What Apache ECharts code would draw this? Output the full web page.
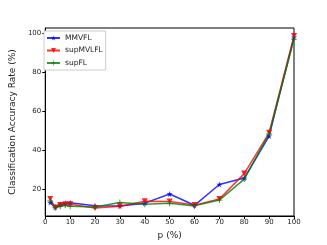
<!DOCTYPE html>
<html><head><meta charset="utf-8">
<script src="https://cdn.jsdelivr.net/npm/echarts@6/dist/echarts.min.js"></script>
<style>html,body{margin:0;padding:0;background:#fff}#c{width:327px;height:245px}</style>
</head><body><div id="c"></div>
<script>
const pValues = [2, 4, 6, 8, 10, 20, 30, 40, 50, 60, 70, 80, 90, 100];
const mmvfl = [13, 10.5, 12, 12.5, 12.8, 11.3, 11.2, 12.6, 17.3, 11.5, 22.2, 25.5, 47.1, 98];
const supMVLFL = [14.7, 10.4, 11.6, 12.1, 12.0, 10.1, 11.0, 13.6, 13.4, 11.6, 14.7, 27.8, 48.8, 98.6];
const supFL = [13.8, 10.2, 11.0, 11.5, 11.0, 10.6, 13.0, 12.1, 12.5, 11.2, 14.2, 25.0, 48.2, 97.0];
const xTicks = [0, 10, 20, 30, 40, 50, 60, 70, 80, 90, 100];
const yTicks = [20, 40, 60, 80, 100];

const star = 'path://M50,0 L61,35 L98,35 L68,57 L79,91 L50,70 L21,91 L32,57 L2,35 L39,35 Z';
const tri = 'path://M0,0 L10,0 L5,9 Z';
const plus = 'path://M4.3,0 L5.7,0 L5.7,4.3 L10,4.3 L10,5.7 L5.7,5.7 L5.7,10 L4.3,10 L4.3,5.7 L0,5.7 L0,4.3 L4.3,4.3 Z';

function mk(name, vals, color, symbol, size) {
  return {
    name, type: 'line', data: pValues.map((p, i) => [p, vals[i]]),
    symbol, symbolSize: size, showSymbol: true,
    lineStyle: { color, width: 1.5, opacity: 0.8 },
    itemStyle: { color, opacity: 0.85 },
    emphasis: { disabled: true }, animation: false
  };
}
const chart = echarts.init(document.getElementById('c'), null, { renderer: 'canvas' });
chart.setOption({
  animation: false,
  backgroundColor: '#fff',
  grid: { left: 41, right: 33, top: 28, bottom: 28, show: true, borderColor: '#000', borderWidth: 1 },
  legend: {
    left: 44, top: 31, orient: 'vertical', itemWidth: 13, itemHeight: 6, itemGap: 4.5,
    padding: [3, 3, 3, 2], borderColor: '#ccc', borderWidth: 1, backgroundColor: '#fff',
    textStyle: { fontFamily: 'DejaVu Sans', fontSize: 7.5, color: '#222', padding: [0, 0, 0, 0] },
    data: ['MMVFL', 'supMVLFL', 'supFL']
  },
  xAxis: {
    type: 'value', min: 0, max: 100, interval: 10,
    name: 'p (%)', nameLocation: 'middle', nameGap: 15,
    nameTextStyle: { fontFamily: 'DejaVu Sans', fontSize: 9, color: '#222' },
    axisLine: { show: true, onZero: false, lineStyle: { color: '#000', width: 1 } },
    axisTick: { show: true, length: 3, lineStyle: { color: '#000' } },
    axisLabel: { fontFamily: 'DejaVu Sans', fontSize: 7, color: '#222', margin: 3 },
    splitLine: { show: false }
  },
  yAxis: {
    type: 'value', min: 6, max: 102.7,
    name: 'Classification Accuracy Rate (%)', nameLocation: 'middle', nameGap: 21,
    nameTextStyle: { fontFamily: 'DejaVu Sans', fontSize: 9, color: '#222' },
    axisLine: { show: true, onZero: false, lineStyle: { color: '#000', width: 1 } },
    axisTick: { show: true, length: 3, customValues: yTicks, lineStyle: { color: '#000' } },
    axisLabel: { fontFamily: 'DejaVu Sans', fontSize: 7, color: '#222', margin: 4, customValues: yTicks },
    splitLine: { show: false }
  },
  series: [
    mk('MMVFL', mmvfl, '#0000ff', star, 6),
    mk('supMVLFL', supMVLFL, '#ff0000', tri, 6),
    mk('supFL', supFL, '#008000', plus, 6)
  ]
});
</script></body></html>
